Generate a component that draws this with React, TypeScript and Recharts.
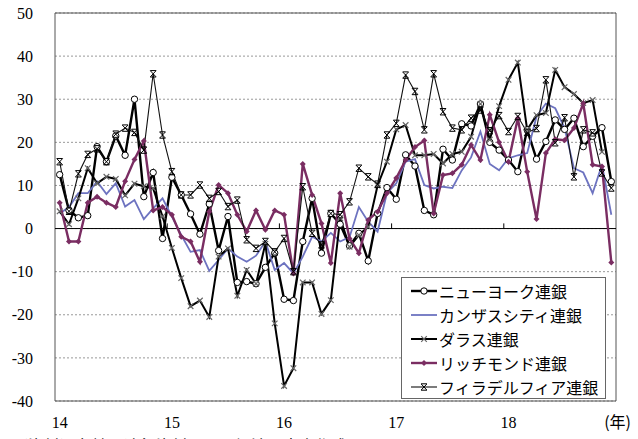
import { LineChart, Line, XAxis, YAxis, CartesianGrid, ReferenceLine, ReferenceArea, Legend } from 'recharts';

const YEARS = ['14', '15', '16', '17', '18'];
const Y_TICKS = [-40, -30, -20, -10, 0, 10, 20, 30, 40, 50];

const NY = [
  12.5, 4.2, 2.5, 3.0, 19.0, 15.5, 21.5, 17.0, 30.0, 7.4, 13.0, -2.3,
  11.9, 7.8, 3.4, -1.3, 5.7, -5.1, 2.8, -12.5, -12.3, -12.8, -9.0, -5.7,
  -16.4, -16.7, -3.0, 7.0, -5.7, 3.5, 1.0, -4.0, -1.1, -7.5, 3.5, 9.5,
  6.8, 17.1, 14.5, 4.2, 3.2, 18.4, 15.9, 24.3, 23.8, 28.9, 20.0, 18.2,
  15.9, 13.2, 22.9, 16.1, 20.2, 25.2, 23.0, 25.6, 19.0, 21.4, 23.4, 10.9,
];
const KANSAS = [
  3.5, 5.0, 8.2, 8.2, 10.9, 8.0, 10.5, 5.1, 6.6, 2.2, 4.7, 7.0,
  2.8, -1.5, -5.4, -5.0, -9.8, -7.3, -4.6, -6.5, -7.7, -6.3, -3.0, -9.6,
  -8.0, -10.4, -6.5, -1.9, -3.0, -1.0, -3.0, -2.0, 5.0, 1.6, -0.7, 8.2,
  10.5, 15.5, 16.1, 10.1, 9.3, 9.7, 9.4, 13.5, 16.5, 22.5, 15.0, 13.5,
  16.3, 17.0, 17.5, 26.0, 29.0, 27.9, 23.3, 14.0, 13.0, 8.2, 14.8, 3.2,
];
const DALLAS = [
  4.0, 1.0, 7.0, 14.0, 10.5, 12.0, 11.5, 7.7, 10.4, 9.8, 9.3, 2.8,
  -4.5, -11.5, -18.0, -16.7, -20.5, -6.5, -4.6, -15.6, -9.6, -12.8, -3.5, -22.0,
  -36.5, -32.4, -12.5, -12.5, -19.8, -16.6, 2.4, -4.2, -1.5, 0.4, 10.0, 15.5,
  23.0, 24.0, 17.0, 17.0, 17.3, 15.1, 17.3, 17.8, 21.3, 28.9, 20.6, 28.4,
  34.5, 38.5, 22.9, 26.3, 26.8, 36.8, 32.8, 31.2, 29.1, 29.8, 17.8, null,
];
const RICHMOND = [
  6.0, -3.0, -3.0, 6.0, 7.4, 6.0, 5.0, 11.0, 16.0, 20.3, 4.2, 5.0,
  3.2, -1.9, -3.0, -7.7, 3.9, 10.1, 8.2, 3.2, -0.7, 4.2, -0.3, 4.2,
  3.2, -10.4, 15.0, 7.8, 1.2, -8.0, 8.2, -2.3, -5.7, 2.0, 3.9, 8.2,
  11.7, 15.9, 18.9, 20.4, 3.5, 12.4, 12.8, 14.8, 19.4, 15.9, 26.4, 20.0,
  15.5, 25.6, 13.2, 2.2, 17.5, 20.7, 20.5, 23.3, 29.0, 14.8, 14.4, -7.9,
];
const PHILLY = [
  15.5, 4.0, 12.7, 17.2, 18.5, 15.5, 21.9, 23.3, 22.3, 18.2, 35.9, 21.7,
  13.2, 7.8, 7.8, 10.1, 7.0, 8.6, 5.1, 6.6, -2.6, -4.6, -3.0, -5.4,
  -2.3, -10.0, 9.7, -1.1, -3.8, 3.5, 3.2, 6.2, 14.0, 12.0, 10.3, 21.7,
  24.4, 35.6, 31.8, 22.9, 35.9, 27.1, 23.3, 22.9, 25.6, 27.5, 22.7, 26.2,
  22.5, 26.0, 22.3, 23.2, 34.5, 19.9, 25.7, 12.0, 22.9, 22.2, 12.9, 9.4,
];

const data = NY.map((_, i) => ({
  x: i + 0.5,
  ny: NY[i],
  kansas: KANSAS[i],
  dallas: DALLAS[i],
  richmond: RICHMOND[i],
  philly: PHILLY[i],
}));

const SERIF = '"Liberation Serif", "Times New Roman", serif';
const JP = '"Noto Sans CJK JP", "Liberation Serif", sans-serif';
const PURPLE = '#7a2d62';
const BLUE = '#6d73c0';

type Mark = 'circle' | 'none' | 'x' | 'diamond' | 'star';

function marker(kind: Mark, cx: number, cy: number, key?: string | number) {
  if (kind === 'circle') return <circle key={key} cx={cx} cy={cy} r={3.2} fill="#fff" stroke="#000" strokeWidth={1} />;
  if (kind === 'x')
    return <path key={key} d={`M${cx - 2.8},${cy - 2.8}L${cx + 2.8},${cy + 2.8}M${cx + 2.8},${cy - 2.8}L${cx - 2.8},${cy + 2.8}`} stroke="#666" strokeWidth={1.2} fill="none" />;
  if (kind === 'diamond')
    return <path key={key} d={`M${cx},${cy - 3}L${cx + 3},${cy}L${cx},${cy + 3}L${cx - 3},${cy}Z`} fill={PURPLE} stroke="none" />;
  if (kind === 'star')
    return (
      <path key={key}
        d={`M${cx - 3},${cy - 3.2}H${cx + 3}M${cx - 3},${cy + 3.2}H${cx + 3}M${cx - 2.8},${cy - 3}L${cx + 2.8},${cy + 3}M${cx + 2.8},${cy - 3}L${cx - 2.8},${cy + 3}`}
        stroke="#000" strokeWidth={1} fill="none" />
    );
  return <g key={key} />;
}

const dotFor = (kind: Mark) => (p: any) => {
  if (p.cx == null || p.cy == null || p.value == null) return <g key={p.index} />;
  return marker(kind, p.cx, p.cy, p.index);
};

const SERIES: { key: string; name: string; color: string; width: number; mark: Mark }[] = [
  { key: 'ny', name: 'ニューヨーク連銀', color: '#000', width: 2.4, mark: 'circle' },
  { key: 'kansas', name: 'カンザスシティ連銀', color: BLUE, width: 1.8, mark: 'none' },
  { key: 'dallas', name: 'ダラス連銀', color: '#000', width: 2, mark: 'x' },
  { key: 'richmond', name: 'リッチモンド連銀', color: PURPLE, width: 2.4, mark: 'diamond' },
  { key: 'philly', name: 'フィラデルフィア連銀', color: '#111', width: 1.1, mark: 'star' },
];

function LegendBox() {
  return (
    <div style={{ border: '1px solid #666', background: '#fff', width: 203, height: 119, paddingTop: 1, boxSizing: 'content-box' }}>
      {SERIES.map((s) => (
        <div key={s.key} style={{ display: 'flex', alignItems: 'center', height: 24 }}>
          <svg width={26} height={12} style={{ marginLeft: 9, marginRight: 2 }}>
            <line x1={0} y1={6} x2={26} y2={6} stroke={s.color} strokeWidth={s.width} />
            {marker(s.mark, 13, 6)}
          </svg>
          <span style={{ fontFamily: JP, fontSize: 16, color: '#000', lineHeight: '24px', whiteSpace: 'nowrap' }}>{s.name}</span>
        </div>
      ))}
    </div>
  );
}

function XTick(props: any) {
  const { x, y, payload } = props;
  const v = payload.value as number;
  if (v === 60) {
    return (
      <text x={x + 15} y={y} dy="0.71em" textAnchor="end" fill="#000" fontSize={16} fontFamily={JP}>
        (年)
      </text>
    );
  }
  return (
    <text x={x} y={y} dy="0.71em" textAnchor="middle" fill="#000" fontSize={16} fontFamily={SERIF}>
      {YEARS[Math.floor(v / 12)]}
    </text>
  );
}

export default function App() {
  return (
    <div style={{ position: 'relative', width: 638, height: 439, overflow: 'hidden', background: '#fff' }}>
      <style>{'body{margin:0}'}</style>
      <LineChart width={638} height={439} data={data} margin={{ top: 13, right: 22, bottom: 0, left: 0 }}>
        <CartesianGrid vertical={false} stroke="#999" strokeDasharray="2 2" />
        <XAxis
          type="number"
          dataKey="x"
          domain={[0, 60]}
          ticks={[0.5, 12.5, 24.5, 36.5, 48.5, 60]}
          interval={0}
          height={38}
          axisLine={false}
          tickLine={false}
          tickSize={0}
          tickMargin={16}
          tick={<XTick />}
        />
        <YAxis
          domain={[-40, 50]}
          ticks={Y_TICKS}
          width={55}
          axisLine={false}
          tickLine={false}
          tickSize={0}
          tickMargin={22}
          tick={{ fill: '#000', fontSize: 16, fontFamily: SERIF }}
        />
        <ReferenceArea x1={0} x2={60} y1={-40} y2={50} fill="none" stroke="#555" strokeWidth={1} />
        <ReferenceLine y={0} stroke="#000" strokeWidth={1} />
        {[12, 24, 36, 48].map((b) => (
          <ReferenceLine key={b} segment={[{ x: b, y: 0 }, { x: b, y: 1.2 }]} stroke="#000" strokeWidth={1} />
        ))}
        {SERIES.map((s) => (
          <Line
            key={s.key}
            type="linear"
            dataKey={s.key}
            name={s.name}
            stroke={s.color}
            strokeWidth={s.width}
            dot={s.mark === 'none' ? false : dotFor(s.mark)}
            activeDot={false}
            connectNulls={false}
            isAnimationActive={false}
          />
        ))}
        <Legend
          layout="vertical"
          align="center"
          verticalAlign="middle"
          content={() => <LegendBox />}
          wrapperStyle={{ left: 401, top: 277, width: 205, height: 121 }}
        />
      </LineChart>
      <div style={{ position: 'absolute', left: 12, top: 433, fontFamily: JP, fontSize: 16, color: '#000', whiteSpace: 'nowrap' }}>
        （資料）各地区連銀資料より、経済調査室作成
      </div>
    </div>
  );
}
